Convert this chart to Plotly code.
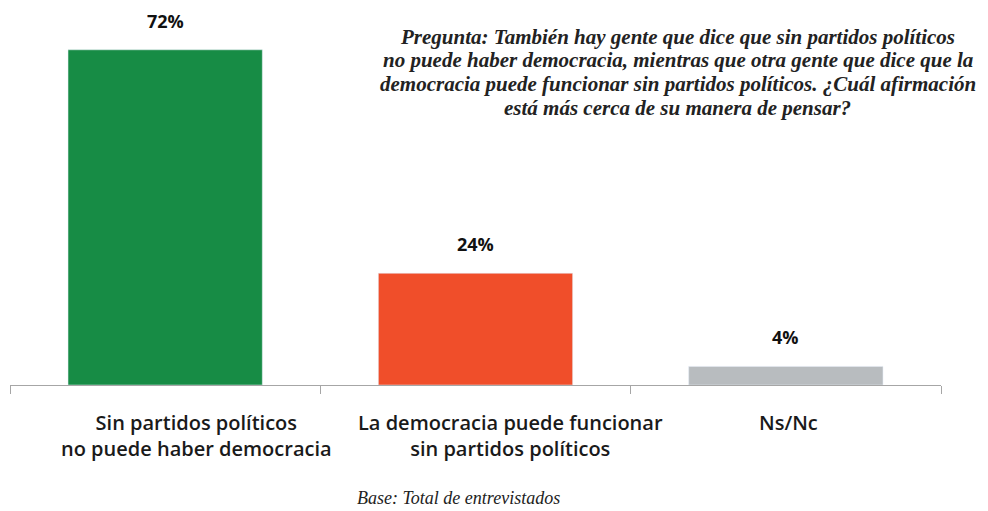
import plotly.graph_objects as go

categories = ["Sin partidos políticos<br>no puede haber democracia",
              "La democracia puede funcionar<br>sin partidos políticos",
              "Ns/Nc"]
values = [72, 24, 4]
value_labels = ["72%", "24%", "4%"]
colors = ["#178c45", "#f04e2a", "#b8bcbf"]
label_xshift = [31, 35, 3]

question_lines = [
    "<b>Pregunta:</b> También hay gente que dice que sin partidos políticos",
    "no puede haber democracia, mientras que otra gente que dice que la",
    "democracia puede funcionar sin partidos políticos. ¿Cuál afirmación",
    "está más cerca de su manera de pensar?",
]
question_y = [0.9534, 0.8904, 0.8247, 0.7589]
base_note = "<i>Base: Total de entrevistados</i>"

fig = go.Figure(go.Bar(x=categories, y=values, marker_color=colors, width=0.626,
                       hoverinfo="skip"))

for c, v, t in zip(categories, values, value_labels):
    fig.add_annotation(x=c, y=v, text=t, showarrow=False, yanchor="bottom", yshift=15,
                       font=dict(family="Open Sans", size=18, color="#111111", weight="bold"))

for c, s in zip(categories, label_xshift):
    fig.add_annotation(x=c, y=0, text=c, showarrow=False, yanchor="top", yshift=-22,
                       xshift=s, align="center",
                       font=dict(family="Open Sans", size=20, color="#1a1a1a", weight=600))

for line, yy in zip(question_lines, question_y):
    fig.add_annotation(xref="paper", yref="paper", x=0.7175, y=yy, xanchor="center",
                       yanchor="middle", text=line, showarrow=False,
                       font=dict(family="Liberation Serif", size=21, color="#222222",
                                 style="italic", weight=600))

fig.add_annotation(xref="paper", yref="paper", x=0.482, y=-0.342, xanchor="center",
                   yanchor="bottom", text=base_note, showarrow=False,
                   font=dict(family="Liberation Serif", size=18, color="#222222"))

fig.update_layout(
    width=980, height=503,
    margin=dict(l=2, r=47, t=12, b=126),
    paper_bgcolor="white", plot_bgcolor="white",
    showlegend=False,
)
fig.update_xaxes(showline=True, linecolor="#a6a6a6", linewidth=1, ticks="outside",
                 tickson="boundaries", ticklen=8, tickcolor="#a6a6a6",
                 showticklabels=False, showgrid=False)
fig.update_yaxes(range=[0, 78.4], visible=False, showgrid=False)

fig.write_html("out.html")
